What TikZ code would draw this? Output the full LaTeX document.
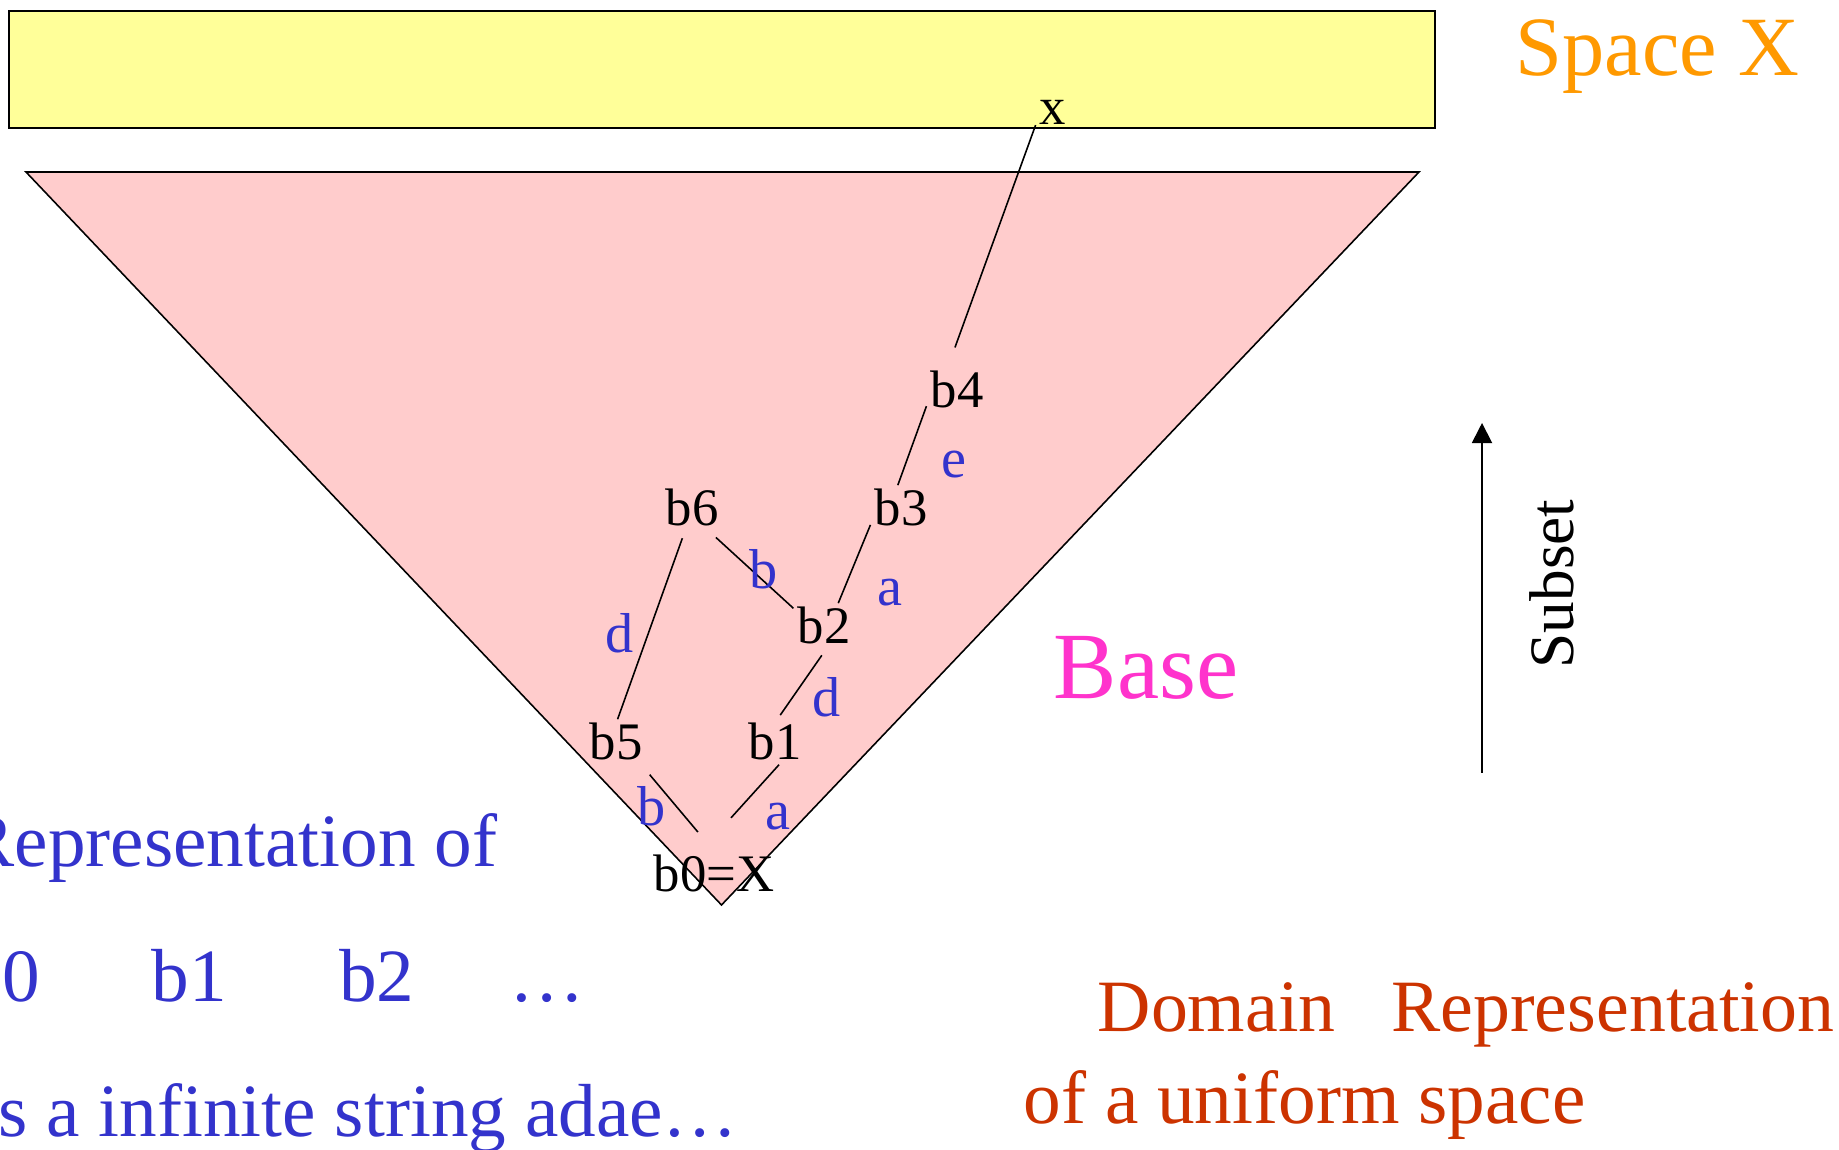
\documentclass[tikz,border=0pt]{standalone}
\usepackage{fontspec}
\setmainfont{Liberation Serif}
\usetikzlibrary{arrows.meta}
\definecolor{my_yellow}{HTML}{FFFF99}
\definecolor{my_pink}{HTML}{FFCCCC}
\definecolor{my_blue}{HTML}{3333CC}
\definecolor{my_orange}{HTML}{FF9900}
\definecolor{my_magenta}{HTML}{FF33CC}
\definecolor{my_red}{HTML}{CC3300}

\begin{document}
\begin{tikzpicture}[
    point/.style={font=\fontsize{15}{18}\selectfont, inner sep=1pt, anchor=base},
    letter/.style={font=\fontsize{16}{19}\selectfont, text=my_blue, inner sep=0pt, anchor=base},
    link/.style={black, line width=0.45pt},
    caption/.style={font=\fontsize{21.4}{25}\selectfont, inner sep=0pt, anchor=base west}
]
\useasboundingbox (0,0) rectangle (18.39,11.49);

% ================================================================
% Space X (yellow strip) and base (pink triangle)
% ================================================================
\filldraw[fill=my_yellow, draw=black, line width=0.55pt] (0.09,10.21) rectangle (14.35,11.38);
\filldraw[fill=my_pink, draw=black, line width=0.45pt]
    (0.26,9.77) -- (14.19,9.77) -- (7.215,2.44) -- cycle;

\node[font=\fontsize{24}{29}\selectfont, text=my_orange, inner sep=0pt, anchor=base west]
    (lbl_space) at (15.15,10.73) {Space X};
\node[font=\fontsize{27}{32}\selectfont, text=my_magenta, inner sep=0pt, anchor=base west]
    (lbl_base) at (10.53,4.50) {Base};

% ================================================================
% base elements
% ================================================================
\node[point] (px) at (10.53,10.24) {x};
\node[point] (b4) at (9.57,7.41) {b4};
\node[point] (b3) at (9.01,6.23) {b3};
\node[point] (b6) at (6.92,6.23) {b6};
\node[point] (b2) at (8.24,5.05) {b2};
\node[point] (b5) at (6.16,3.89) {b5};
\node[point] (b1) at (7.75,3.89) {b1};
\node[point] (b0) at (7.14,2.57) {b0=X};

% links
\draw[link, shorten >=0.21cm] (px.215) -- (b4.112);
\draw[link] (b4.208) -- (b3.98);
\draw[link] (b3.209) -- (b2.58);
\draw[link, shorten <=0.1cm] (b6.306) -- (b2.150);
\draw[link, shorten <=0.08cm] (b6.253) -- (b5.86);
\draw[link, shorten <=0.08cm, shorten >=0.05cm] (b2.276) -- (b1.84);
\draw[link, shorten >=0.45cm] (b1.280) -- (b0.120);
\draw[link, shorten <=0.13cm, shorten >=0.25cm] (b5.318) -- (b0.90);

% link letters
\node[letter] (l_e)  at (9.54,6.71) {e};
\node[letter] (l_a2) at (8.90,5.43) {a};
\node[letter] (l_b2) at (7.64,5.60) {b};
\node[letter] (l_d5) at (6.20,4.96) {d};
\node[letter] (l_d1) at (8.27,4.32) {d};
\node[letter] (l_b0) at (6.52,3.23) {b};
\node[letter] (l_a0) at (7.78,3.19) {a};

% ================================================================
% Subset arrow
% ================================================================
\coordinate (sub_tail) at (14.82,3.76);
\coordinate (sub_head) at (14.82,7.26);
\draw[line width=0.5pt, -{Triangle[length=5.7pt, width=5.7pt]}] (sub_tail) -- (sub_head);
\node[font=\fontsize{18}{22}\selectfont, inner sep=0pt, rotate=90, anchor=base]
    (lbl_subset) at (15.73,5.65) {Subset};

% ================================================================
% captions
% ================================================================
\node[caption, text=my_blue] (rep_1) at (-0.36,2.82) {Representation of};
\node[caption, text=my_blue] (rep_2) at (-0.36,1.47)
    {b0\hspace{1.12cm}b1\hspace{1.12cm}b2\hspace{0.95cm}…};
\node[caption, text=my_blue] (rep_3) at (-0.23,0.13) {is a infinite string adae…};

\node[caption, text=my_red, font=\fontsize{21}{25}\selectfont] (dom_1) at (10.97,1.17)
    {Domain\hspace{0.56cm}Representation};
\node[caption, text=my_red] (dom_2) at (10.23,0.26) {of a uniform space};

\end{tikzpicture}
\end{document}
